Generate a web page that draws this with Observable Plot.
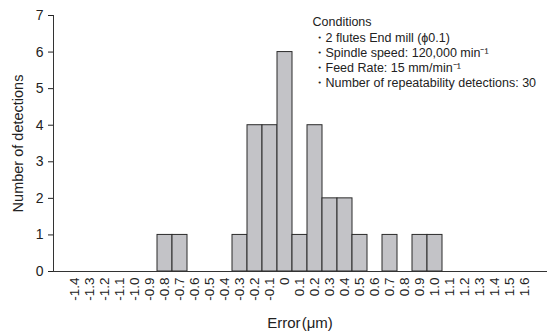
<!DOCTYPE html>
<html>
<head>
<meta charset="utf-8">
<script src="https://cdn.jsdelivr.net/npm/d3@7"></script>
<script src="https://cdn.jsdelivr.net/npm/@observablehq/plot@0.6"></script>
<style>
  html, body { margin: 0; padding: 0; background: #fff; }
  svg { display: block; }
</style>
</head>
<body>
<div id="chart"></div>
<script>
const categories = ["-1.4","-1.3","-1.2","-1.1","-1.0","-0.9","-0.8","-0.7","-0.6","-0.5","-0.4","-0.3","-0.2","-0.1","0","0.1","0.2","0.3","0.4","0.5","0.6","0.7","0.8","0.9","1.0","1.1","1.2","1.3","1.4","1.5","1.6"];
const counts = [0,0,0,0,0,0,1,1,0,0,0,1,4,4,6,1,4,2,2,1,0,1,0,1,1,0,0,0,0,0,0];
const yTicks = [0,1,2,3,4,5,6,7];
const xLabel = "Error\u200a(μm)";
const yLabel = "Number of detections";
const conditionLines = [
  "Conditions",
  "・2 flutes End mill (ϕ0.1)",
  "・Spindle speed: 120,000 min⁻¹",
  "・Feed Rate: 15 mm/min⁻¹",
  "・Number of repeatability detections: 30"
];

const data = categories.map((c, i) => ({error: c, count: counts[i]})).filter(d => d.count > 0);

const chart = Plot.plot({
  width: 557,
  height: 331,
  marginLeft: 53,
  marginRight: 11,
  marginTop: 15,
  marginBottom: 60,
  style: {fontFamily: "'Liberation Sans', Arial, sans-serif", fontSize: "12px", color: "#222"},
  x: {type: "band", domain: categories, padding: 0},
  y: {domain: [0, 7]},
  marks: [
    Plot.barY(data, {x: "error", y: "count", fill: "#c3c3c7", stroke: "#2a2a2a", strokeWidth: 1, inset: 0}),
    Plot.axisX({tickSize: 0, tickRotate: -90, tickPadding: 6, fontSize: 13.5, label: null}),
    Plot.axisY({ticks: yTicks, tickFormat: "d", tickSize: 5, tickPadding: 5, fontSize: 14, label: null}),
    Plot.text([yLabel], {text: d => d, frameAnchor: "left", dx: -35, rotate: -90, textAnchor: "middle", lineAnchor: "middle", fontSize: 14.5, fill: "#222"}),
    Plot.text([xLabel], {text: d => d, frameAnchor: "bottom", dy: 52, textAnchor: "middle", lineAnchor: "middle", fontSize: 15, fill: "#222"}),
    Plot.frame({anchor: "left", stroke: "#333"}),
    Plot.frame({anchor: "bottom", stroke: "#333"}),
    Plot.text([conditionLines.join("\n")], {frameAnchor: "top-left", dx: 259, dy: 0, lineAnchor: "top", textAnchor: "start", lineHeight: 1.22, fontSize: 12.5, fill: "#222"})
  ]
});
document.getElementById("chart").appendChild(chart);
</script>
</body>
</html>
